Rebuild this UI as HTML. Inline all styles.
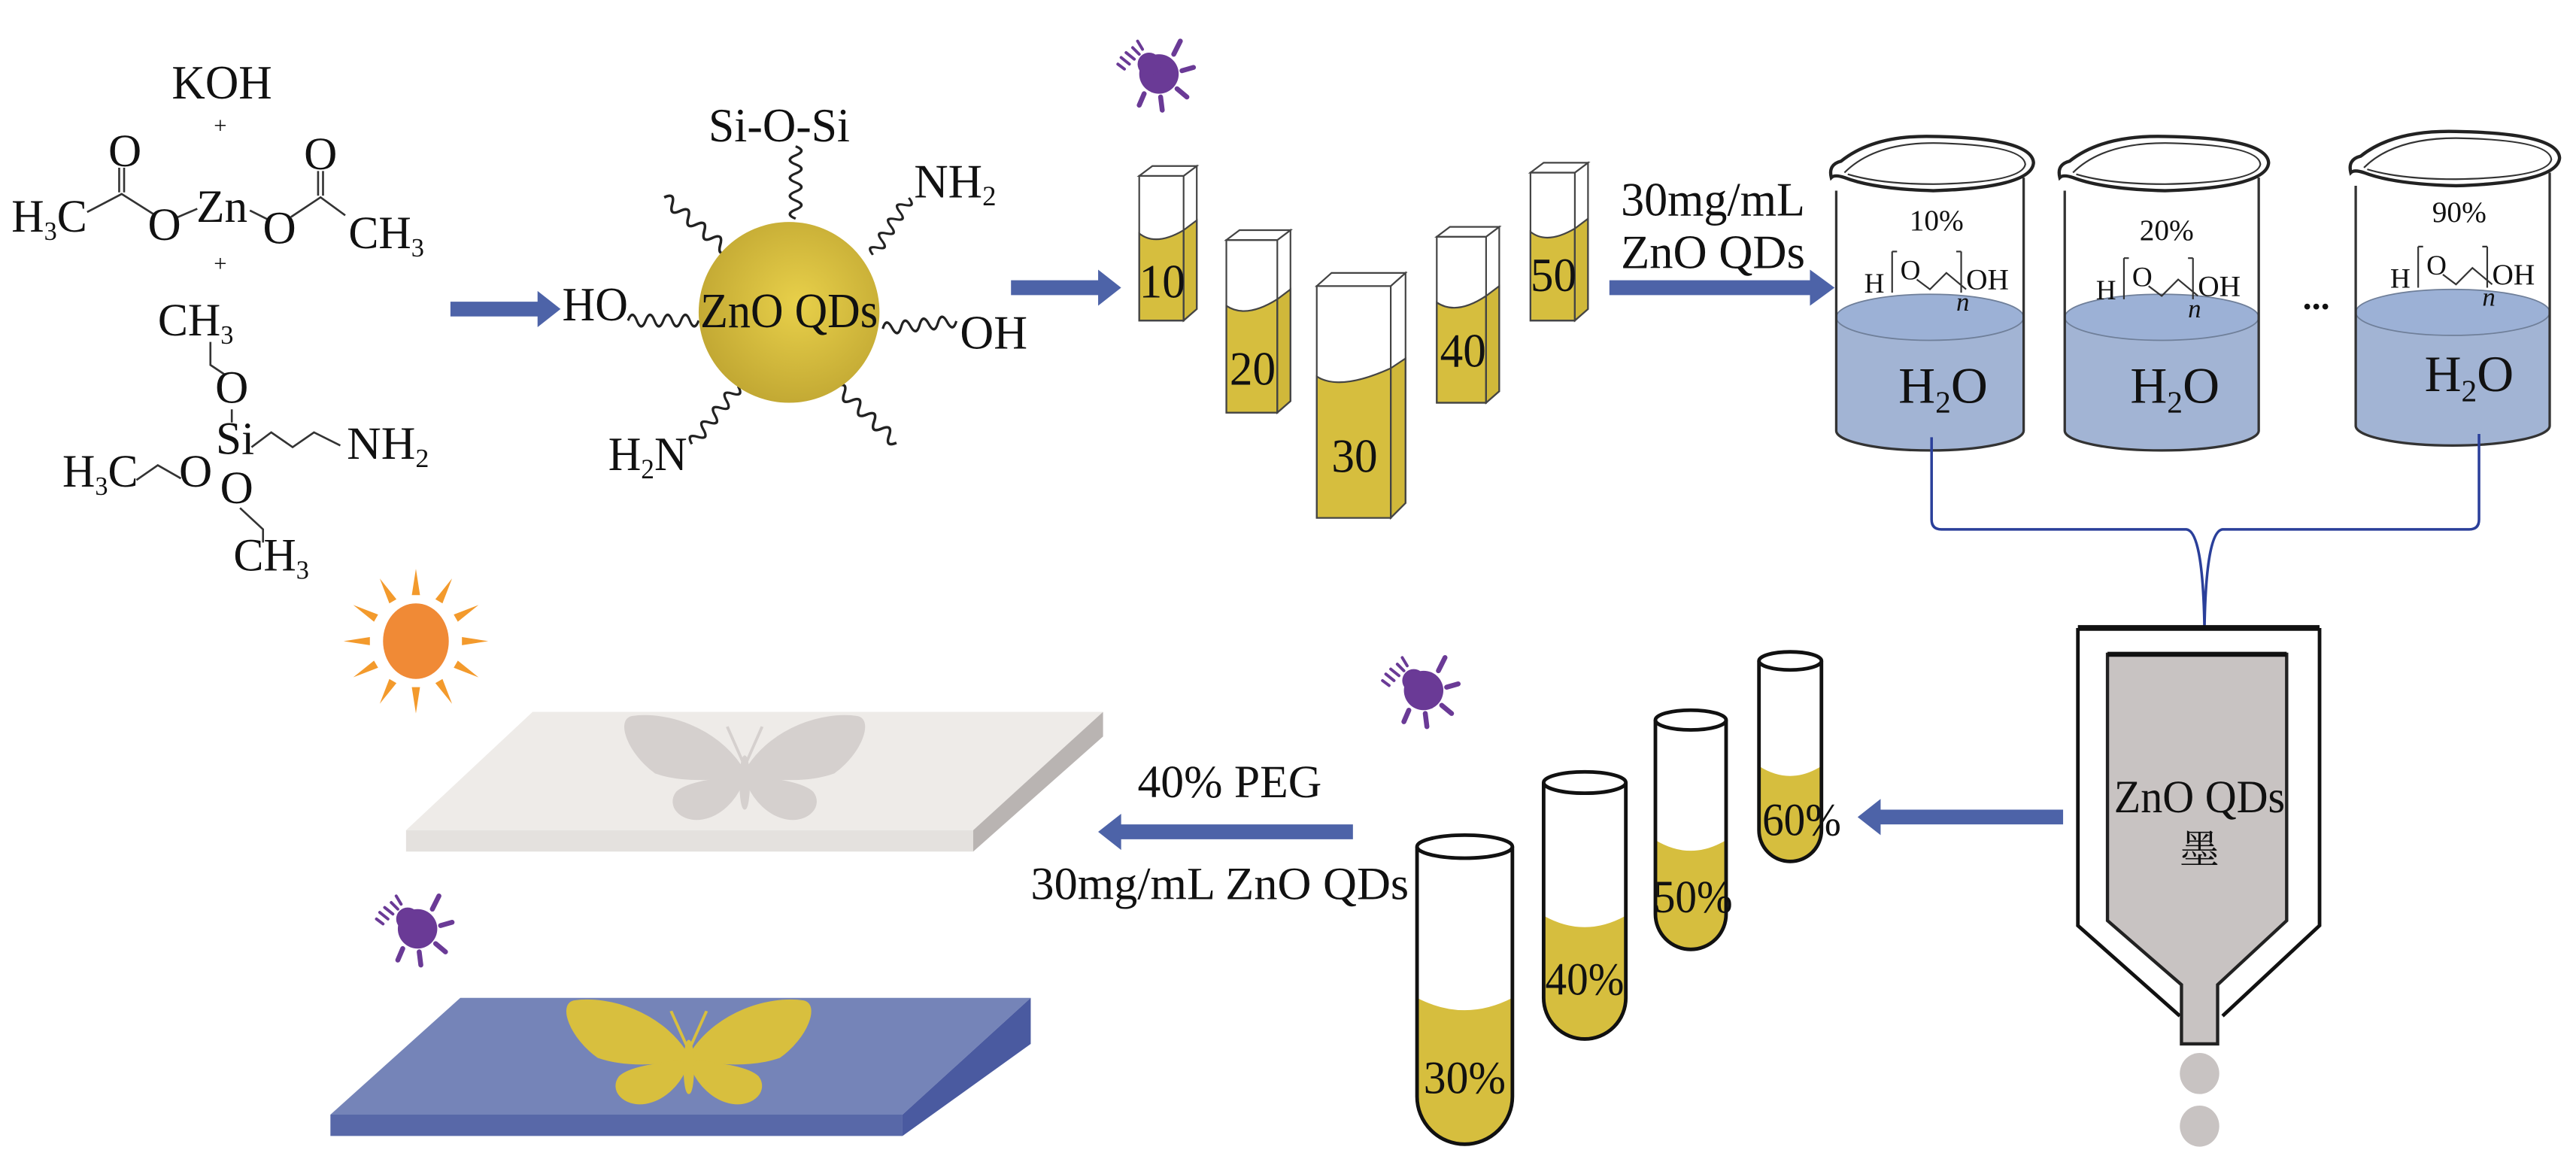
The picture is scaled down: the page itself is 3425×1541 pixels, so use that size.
<!DOCTYPE html>
<html><head><meta charset="utf-8"><style>
html,body{margin:0;padding:0;background:#fff;}
svg{display:block;}
text{font-family:"Liberation Serif","Noto Serif CJK SC",serif;fill:#111;}
</style></head><body>
<svg width="3425" height="1541" viewBox="0 0 1567 705" preserveAspectRatio="none" xmlns="http://www.w3.org/2000/svg">
<defs>
<path id="wv" d="M0 0 q3.1 -7 6.25 0 t6.25 0 t6.25 0 t6.25 0 t6.25 0 t6.25 0 t6.25 0 t6.25 0" fill="none" stroke="#222" stroke-width="1.6"/>
<radialGradient id="sph" cx="0.55" cy="0.45" r="0.6">
<stop offset="0" stop-color="#e8d04a"/><stop offset="1" stop-color="#c0a632"/></radialGradient>
<g id="bfly">
<path d="M2,-2 C15,-25 40,-35 58,-32 C66,-30 60,-10 46,2 C32,8 15,6 2,4 Z"/>
<path d="M2,4 C15,6 30,8 35,14 C40,22 33,32 22,30 C12,28 5,18 2,10 Z"/>
<path transform="scale(-1,1)" d="M2,-2 C15,-25 40,-35 58,-32 C66,-30 60,-10 46,2 C32,8 15,6 2,4 Z"/>
<path transform="scale(-1,1)" d="M2,4 C15,6 30,8 35,14 C40,22 33,32 22,30 C12,28 5,18 2,10 Z"/>
<ellipse cx="0" cy="8" rx="2.2" ry="16"/>
<path d="M0,-2 L9,-26 M0,-2 L-9,-26" stroke-width="1.5" fill="none"/>
</g>
<g id="uv" fill="#6a3a96" stroke="#6a3a96" stroke-linecap="round">
<circle cx="0" cy="0" r="12" stroke="none"/>
<circle cx="-6" cy="-6" r="7" stroke="none"/>
<path d="M9,-12 L13,-20 M14,-2 L21,-4 M11,9 L17,14 M1,14 L2,22 M-9,12 L-12,19" stroke-width="3" fill="none"/>
<path d="M-12,-12 L-16,-16 M-15,-9 L-20,-13 M-18,-6 L-23,-10 M-10,-15 L-13,-20 M-21,-3 L-25,-6" stroke-width="1.8" fill="none"/>
</g>
</defs>

<text x="135" y="60" font-size="29" text-anchor="middle" textLength="61" lengthAdjust="spacingAndGlyphs">KOH</text>
<text x="134" y="81" font-size="14" text-anchor="middle">+</text>
<text x="134" y="165" font-size="14" text-anchor="middle">+</text>
<g stroke="#333" stroke-width="1.2" fill="none">
<path d="M53,129 L74,118 L93,130"/>
<path d="M72.5,117 L72.5,102 M75.5,117 L75.5,102"/>
<path d="M106,133 L120,127"/>
<path d="M152,128 L164,134"/>
<path d="M177,132 L195,120 L210,131"/>
<path d="M193.5,119 L193.5,104 M196.5,119 L196.5,104"/>
<path d="M128,208 L128,222 L137,228"/>
<path d="M141,249 L141,257"/>
<path d="M153,272 L165,263 L178,272 L191,263 L207,271"/>
<path d="M83,292 L96,283 L110,291"/>
<path d="M146,309 L160,322 L160,330"/>
</g>
<g font-size="28">
<text x="7" y="141" textLength="46" lengthAdjust="spacingAndGlyphs">H<tspan font-size="16" dy="5">3</tspan><tspan dy="-5">C</tspan></text>
<text x="76" y="101" text-anchor="middle">O</text>
<text x="100" y="146" text-anchor="middle">O</text>
<text x="135" y="135" text-anchor="middle">Zn</text>
<text x="170" y="148" text-anchor="middle">O</text>
<text x="195" y="103" text-anchor="middle">O</text>
<text x="212" y="151" textLength="46" lengthAdjust="spacingAndGlyphs">CH<tspan font-size="16" dy="5">3</tspan></text>
<text x="96" y="204" textLength="46" lengthAdjust="spacingAndGlyphs">CH<tspan font-size="16" dy="5">3</tspan></text>
<text x="141" y="245" text-anchor="middle">O</text>
<text x="143" y="276" text-anchor="middle">Si</text>
<text x="211" y="279" textLength="50" lengthAdjust="spacingAndGlyphs">NH<tspan font-size="16" dy="5">2</tspan></text>
<text x="38" y="296" textLength="46" lengthAdjust="spacingAndGlyphs">H<tspan font-size="16" dy="5">3</tspan><tspan dy="-5">C</tspan></text>
<text x="119" y="296" text-anchor="middle">O</text>
<text x="144" y="306" text-anchor="middle">O</text>
<text x="142" y="347" textLength="46" lengthAdjust="spacingAndGlyphs">CH<tspan font-size="16" dy="5">3</tspan></text>
</g>

<path d="M274,183.5 L327,183.5 L327,177 L341,188 L327,199 L327,192.5 L274,192.5 Z" fill="#4d63a8"/>

<use href="#wv" transform="translate(484,133) rotate(-90) scale(0.88,1)"/>
<use href="#wv" transform="translate(443,153) rotate(-139.8) scale(1.02,1)"/>
<use href="#wv" transform="translate(531,155) rotate(-57.8) scale(0.82,1)"/>
<use href="#wv" transform="translate(425,195) rotate(180) scale(0.86,1)"/>
<use href="#wv" transform="translate(537,200) rotate(-6) scale(0.9,1)"/>
<use href="#wv" transform="translate(449,235) rotate(128.7) scale(0.9,1)"/>
<use href="#wv" transform="translate(509,235) rotate(43.4) scale(1,1)"/>
<circle cx="480" cy="190" r="55" fill="url(#sph)"/>
<text x="480" y="199" font-size="30" text-anchor="middle" textLength="108" lengthAdjust="spacingAndGlyphs">ZnO QDs</text>
<text x="342" y="195" font-size="29" textLength="40" lengthAdjust="spacingAndGlyphs">HO</text>
<text x="584" y="212" font-size="29" textLength="41" lengthAdjust="spacingAndGlyphs">OH</text>
<text x="431" y="86" font-size="29" textLength="86" lengthAdjust="spacingAndGlyphs">Si-O-Si</text>
<text x="556" y="120" font-size="29" textLength="50" lengthAdjust="spacingAndGlyphs">NH<tspan font-size="17" dy="5">2</tspan></text>
<text x="370" y="286" font-size="29" textLength="48" lengthAdjust="spacingAndGlyphs">H<tspan font-size="17" dy="5">2</tspan><tspan dy="-5">N</tspan></text>

<path d="M615,170.5 L668,170.5 L668,164 L682,175 L668,186 L668,179.5 L615,179.5 Z" fill="#4d63a8"/>

<use href="#uv" transform="translate(705,45)"/>

<g stroke="#444" stroke-width="1">
<path d="M693,142 Q703,150 720,140 L720,195 L693,195 Z" fill="#d6be3e"/>
<path d="M720,140 L728,134 L728,188 L720,195 Z" fill="#d0b83a"/>
<path d="M693,107 L720,107 L720,195 L693,195 Z" fill="none"/>
<path d="M720,107 L728,101 L728,188 L720,195" fill="none"/>
<path d="M693,107 L701,101 L728,101 L720,107 Z" fill="#fff"/>
<path d="M746,186 Q758,194 777,182 L777,251 L746,251 Z" fill="#d6be3e"/>
<path d="M777,182 L785,176 L785,244 L777,251 Z" fill="#d0b83a"/>
<path d="M746,146 L777,146 L777,251 L746,251 Z" fill="none"/>
<path d="M777,146 L785,140 L785,244 L777,251" fill="none"/>
<path d="M746,146 L754,140 L785,140 L777,146 Z" fill="#fff"/>
<path d="M801,229 Q815,238 846,224 L846,315 L801,315 Z" fill="#d6be3e"/>
<path d="M846,224 L855,218 L855,306 L846,315 Z" fill="#d0b83a"/>
<path d="M801,174 L846,174 L846,315 L801,315 Z" fill="none"/>
<path d="M846,174 L855,166 L855,306 L846,315" fill="none"/>
<path d="M801,174 L810,166 L855,166 L846,174 Z" fill="#fff"/>
<path d="M874,184 Q886,192 904,180 L904,245 L874,245 Z" fill="#d6be3e"/>
<path d="M904,180 L912,174 L912,238 L904,245 Z" fill="#d0b83a"/>
<path d="M874,144 L904,144 L904,245 L874,245 Z" fill="none"/>
<path d="M904,144 L912,138 L912,238 L904,245" fill="none"/>
<path d="M874,144 L882,138 L912,138 L904,144 Z" fill="#fff"/>
<path d="M931,141 Q941,149 958,139 L958,195 L931,195 Z" fill="#d6be3e"/>
<path d="M958,139 L966,133 L966,188 L958,195 Z" fill="#d0b83a"/>
<path d="M931,105 L958,105 L958,195 L931,195 Z" fill="none"/>
<path d="M958,105 L966,99 L966,188 L958,195" fill="none"/>
<path d="M931,105 L939,99 L966,99 L958,105 Z" fill="#fff"/>
</g>
<g font-size="29" text-anchor="middle">
<text x="707" y="181" textLength="28" lengthAdjust="spacingAndGlyphs">10</text>
<text x="762" y="234" textLength="28" lengthAdjust="spacingAndGlyphs">20</text>
<text x="824" y="287" textLength="28" lengthAdjust="spacingAndGlyphs">30</text>
<text x="890" y="223" textLength="28" lengthAdjust="spacingAndGlyphs">40</text>
<text x="945" y="177" textLength="28" lengthAdjust="spacingAndGlyphs">50</text>
</g>

<text x="986" y="131" font-size="29" textLength="112" lengthAdjust="spacingAndGlyphs">30mg/mL</text>
<text x="986" y="163" font-size="29" textLength="112" lengthAdjust="spacingAndGlyphs">ZnO QDs</text>
<path d="M979,170.5 L1101,170.5 L1101,164 L1116,175 L1101,186 L1101,179.5 L979,179.5 Z" fill="#4d63a8"/>

<g transform="translate(1110,0)">
<path d="M7,193 L7,262 A57,12 0 0 0 121,262 L121,193 Z" fill="#a2b4d4"/>
<ellipse cx="64" cy="193" rx="57" ry="14" fill="#9cb1d6" stroke="#6f7f99" stroke-width="0.8"/>
<path d="M7,116 L7,262 A57,12 0 0 0 121,262 L121,108" fill="none" stroke="#333" stroke-width="1.5"/>
<path d="M4,108 Q2,100 10,98 Q30,82 66,83 Q126,84 127,99 Q126,114 66,116 Q30,115 12,108 Q6,106 4,108 Z" fill="none" stroke="#222" stroke-width="2"/>
<path d="M12,105 Q30,87 66,87 Q121,88 122,100 Q120,111 66,112 Q34,112 14,106" fill="none" stroke="#333" stroke-width="1"/>
<text x="68" y="140" font-size="18" text-anchor="middle">10%</text>
</g>
<g transform="translate(1249,0)">
<path d="M7,193 L7,262 A59,12 0 0 0 125,262 L125,193 Z" fill="#a2b4d4"/>
<ellipse cx="66" cy="193" rx="59" ry="14" fill="#9cb1d6" stroke="#6f7f99" stroke-width="0.8"/>
<path d="M7,116 L7,262 A59,12 0 0 0 125,262 L125,108" fill="none" stroke="#333" stroke-width="1.5"/>
<path d="M4,108 Q2,100 10,98 Q30,82 68,83 Q130,84 131,99 Q130,114 68,116 Q30,115 12,108 Q6,106 4,108 Z" fill="none" stroke="#222" stroke-width="2"/>
<path d="M12,105 Q30,87 68,87 Q125,88 126,100 Q124,111 68,112 Q34,112 14,106" fill="none" stroke="#333" stroke-width="1"/>
<text x="69" y="146" font-size="18" text-anchor="middle">20%</text>
</g>
<g transform="translate(1426,-3)">
<path d="M7,193 L7,262 A59,12 0 0 0 125,262 L125,193 Z" fill="#a2b4d4"/>
<ellipse cx="66" cy="193" rx="59" ry="14" fill="#9cb1d6" stroke="#6f7f99" stroke-width="0.8"/>
<path d="M7,116 L7,262 A59,12 0 0 0 125,262 L125,108" fill="none" stroke="#333" stroke-width="1.5"/>
<path d="M4,108 Q2,100 10,98 Q30,82 68,83 Q130,84 131,99 Q130,114 68,116 Q30,115 12,108 Q6,106 4,108 Z" fill="none" stroke="#222" stroke-width="2"/>
<path d="M12,105 Q30,87 68,87 Q125,88 126,100 Q124,111 68,112 Q34,112 14,106" fill="none" stroke="#333" stroke-width="1"/>
<text x="70" y="138" font-size="18" text-anchor="middle">90%</text>
</g>
<g font-size="17">
<g transform="translate(1110,0)">
<text x="24" y="178">H</text><text x="46" y="170">O</text>
<path d="M41,153 L41,178 M41,153 L44,153 M83,153 L83,178 M83,153 L80,153 M56,170 L64,176 L74,166 L86,176" stroke="#333" stroke-width="1" fill="none"/>
<text x="86" y="176" font-size="18">OH</text><text x="80" y="189" font-style="italic" font-size="16">n</text>
<text x="72" y="245" font-size="31" text-anchor="middle">H<tspan font-size="19" dy="6">2</tspan><tspan dy="-6">O</tspan></text>
</g>
<g transform="translate(1251,4)">
<text x="24" y="178">H</text><text x="46" y="170">O</text>
<path d="M41,153 L41,178 M41,153 L44,153 M83,153 L83,178 M83,153 L80,153 M56,170 L64,176 L74,166 L86,176" stroke="#333" stroke-width="1" fill="none"/>
<text x="86" y="176" font-size="18">OH</text><text x="80" y="189" font-style="italic" font-size="16">n</text>
<text x="72" y="241" font-size="31" text-anchor="middle">H<tspan font-size="19" dy="6">2</tspan><tspan dy="-6">O</tspan></text>
</g>
<g transform="translate(1430,-3)">
<text x="24" y="178">H</text><text x="46" y="170">O</text>
<path d="M41,153 L41,178 M41,153 L44,153 M83,153 L83,178 M83,153 L80,153 M56,170 L64,176 L74,166 L86,176" stroke="#333" stroke-width="1" fill="none"/>
<text x="86" y="176" font-size="18">OH</text><text x="80" y="189" font-style="italic" font-size="16">n</text>
<text x="72" y="241" font-size="31" text-anchor="middle">H<tspan font-size="19" dy="6">2</tspan><tspan dy="-6">O</tspan></text>
</g>
</g>
<text x="1409" y="188" font-size="22" text-anchor="middle" font-weight="bold">...</text>

<path d="M1175,266 L1175,316 Q1175,322 1181,322 L1330,322 Q1340,323 1341,382 Q1342,323 1352,322 L1502,322 Q1508,322 1508,316 L1508,264" fill="none" stroke="#2a3f9a" stroke-width="1.6"/>

<path d="M1264,382 L1411,382" stroke="#111" stroke-width="3.5"/>
<path d="M1264,382 L1264,563 L1326,618 M1411,382 L1411,563 L1352,618" fill="none" stroke="#111" stroke-width="2.2"/>
<path d="M1282,398 L1391,398 L1391,560 L1349,599 L1349,635 L1327,635 L1327,599 L1282,560 Z" fill="#c8c3c2" stroke="#222" stroke-width="2"/>
<path d="M1282,398 L1391,398" stroke="#111" stroke-width="3"/>
<text x="1338" y="494" font-size="28" text-anchor="middle" textLength="104" lengthAdjust="spacingAndGlyphs">ZnO QDs</text>
<text x="1338" y="525" font-size="24" text-anchor="middle">墨</text>
<ellipse cx="1338" cy="653" rx="12" ry="12.5" fill="#c8c3c2"/>
<ellipse cx="1338" cy="685" rx="12" ry="12.5" fill="#c8c3c2"/>

<path d="M1255,492.5 L1144,492.5 L1144,486 L1130,497 L1144,508 L1144,501.5 L1255,501.5 Z" fill="#4d63a8"/>

<use href="#uv" transform="translate(866,420)"/>

<g stroke="#111" stroke-width="2.2">
<path d="M862,607 Q891,622 920,607 L920,667 A29,29 0 0 1 862,667 Z" fill="#d6be3e" stroke="none"/>
<path d="M862,515 L862,667 A29,29 0 0 0 920,667 L920,515" fill="none"/>
<ellipse cx="891" cy="515" rx="29" ry="7" fill="#fff"/>
<path d="M939,557 Q964,571 989,557 L989,607 A25,25 0 0 1 939,607 Z" fill="#d6be3e" stroke="none"/>
<path d="M939,476 L939,607 A25,25 0 0 0 989,607 L989,476" fill="none"/>
<ellipse cx="964" cy="476" rx="25" ry="6.5" fill="#fff"/>
<path d="M1007,511 Q1028.5,524 1050,511 L1050,556 A21.5,21.5 0 0 1 1007,556 Z" fill="#d6be3e" stroke="none"/>
<path d="M1007,438 L1007,556 A21.5,21.5 0 0 0 1050,556 L1050,438" fill="none"/>
<ellipse cx="1028.5" cy="438" rx="21.5" ry="6" fill="#fff"/>
<path d="M1070,466 Q1089,478 1108,466 L1108,505 A19,19 0 0 1 1070,505 Z" fill="#d6be3e" stroke="none"/>
<path d="M1070,402 L1070,505 A19,19 0 0 0 1108,505 L1108,402" fill="none"/>
<ellipse cx="1089" cy="402" rx="19" ry="5.5" fill="#fff"/>
</g>
<g font-size="28" text-anchor="middle">
<text x="891" y="665" textLength="50" lengthAdjust="spacingAndGlyphs">30%</text>
<text x="964" y="605" textLength="48" lengthAdjust="spacingAndGlyphs">40%</text>
<text x="1030" y="555" textLength="48" lengthAdjust="spacingAndGlyphs">50%</text>
<text x="1096" y="508" textLength="48" lengthAdjust="spacingAndGlyphs">60%</text>
</g>

<text x="692" y="485" font-size="28" textLength="112" lengthAdjust="spacingAndGlyphs">40% PEG</text>
<path d="M823,501.5 L682,501.5 L682,495 L668,506 L682,517 L682,510.5 L823,510.5 Z" fill="#4d63a8"/>
<text x="627" y="547" font-size="28" textLength="230" lengthAdjust="spacingAndGlyphs">30mg/mL ZnO QDs</text>

<g transform="translate(253,390)">
<g fill="#f39a2c">
<path d="M-2.5,-28 L0,-44 L2.5,-28 Z" transform="rotate(0)"/>
<path d="M-2.5,-28 L0,-44 L2.5,-28 Z" transform="rotate(30)"/>
<path d="M-2.5,-28 L0,-44 L2.5,-28 Z" transform="rotate(60)"/>
<path d="M-2.5,-28 L0,-44 L2.5,-28 Z" transform="rotate(90)"/>
<path d="M-2.5,-28 L0,-44 L2.5,-28 Z" transform="rotate(120)"/>
<path d="M-2.5,-28 L0,-44 L2.5,-28 Z" transform="rotate(150)"/>
<path d="M-2.5,-28 L0,-44 L2.5,-28 Z" transform="rotate(180)"/>
<path d="M-2.5,-28 L0,-44 L2.5,-28 Z" transform="rotate(210)"/>
<path d="M-2.5,-28 L0,-44 L2.5,-28 Z" transform="rotate(240)"/>
<path d="M-2.5,-28 L0,-44 L2.5,-28 Z" transform="rotate(270)"/>
<path d="M-2.5,-28 L0,-44 L2.5,-28 Z" transform="rotate(300)"/>
<path d="M-2.5,-28 L0,-44 L2.5,-28 Z" transform="rotate(330)"/>
</g>
<ellipse cx="0" cy="0" rx="20" ry="23" fill="#f08a36"/>
</g>

<path d="M324,433 L671,433 L592,505 L247,505 Z" fill="#eeebe8"/>
<path d="M247,505 L592,505 L592,518 L247,518 Z" fill="#e4e1de"/>
<path d="M592,505 L671,433 L671,448 L592,518 Z" fill="#b9b4b2"/>
<g fill="#d5d0ce" stroke="#d5d0ce" transform="translate(453,468) scale(1.18,1)"><use href="#bfly"/></g>

<use href="#uv" transform="translate(254,565)"/>

<path d="M280,607 L627,607 L549,678 L201,678 Z" fill="#7584b8"/>
<path d="M201,678 L549,678 L549,691 L201,691 Z" fill="#5868a8"/>
<path d="M549,678 L627,607 L627,635 L549,691 Z" fill="#4a5aa0"/>
<g fill="#d8bf3e" stroke="#d8bf3e" transform="translate(419,641) scale(1.2,1)"><use href="#bfly"/></g>
</svg>
</body></html>
